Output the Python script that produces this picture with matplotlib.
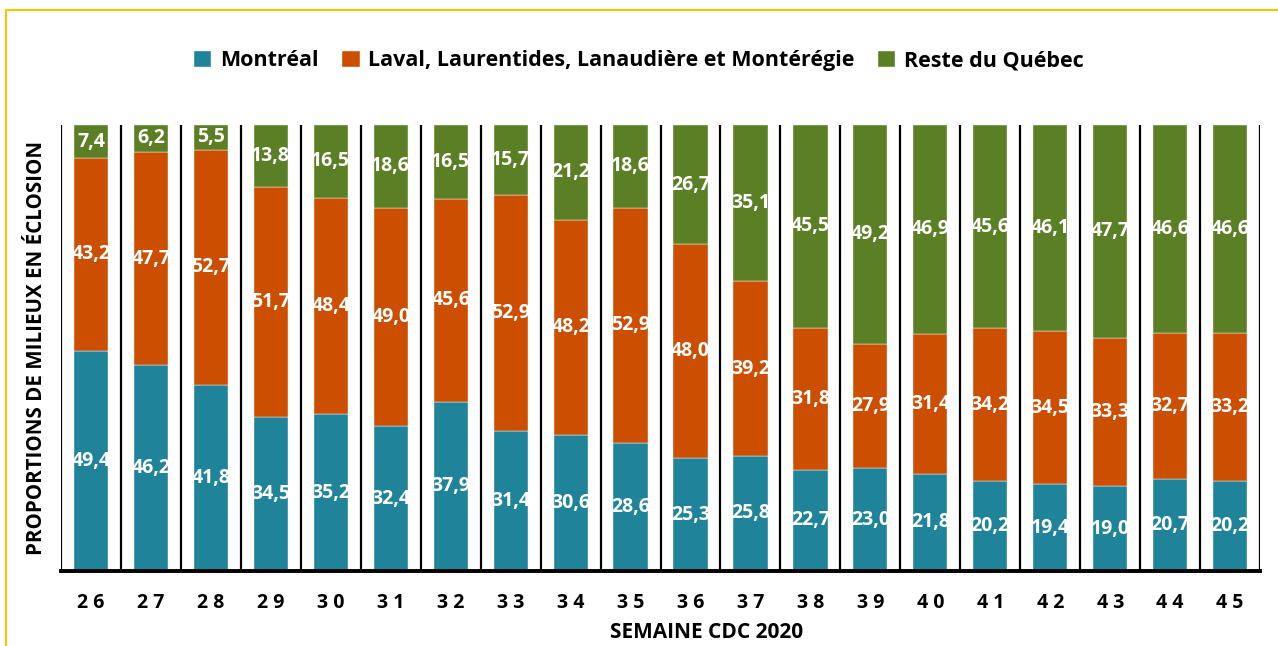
import matplotlib.pyplot as plt
import matplotlib.patches as patches
import numpy as np

plt.rcParams['font.family'] = ['Open Sans', 'DejaVu Sans']

# semaines CDC 2020
weeks = ['26', '27', '28', '29', '30', '31', '32', '33', '34', '35',
         '36', '37', '38', '39', '40', '41', '42', '43', '44', '45']
montreal = [49.4, 46.2, 41.8, 34.5, 35.2, 32.4, 37.9, 31.4, 30.6, 28.6,
            25.3, 25.8, 22.7, 23.0, 21.8, 20.2, 19.4, 19.0, 20.7, 20.2]
laval = [43.2, 47.7, 52.7, 51.7, 48.4, 49.0, 45.6, 52.9, 48.2, 52.9,
         48.0, 39.2, 31.8, 27.9, 31.4, 34.2, 34.5, 33.3, 32.7, 33.2]
reste = [7.4, 6.2, 5.5, 13.8, 16.5, 18.6, 16.5, 15.7, 21.2, 18.6,
         26.7, 35.1, 45.5, 49.2, 46.9, 45.6, 46.1, 47.7, 46.6, 46.6]
series_names = ['Montréal', 'Laval, Laurentides, Lanaudière et Montérégie',
                'Reste du Québec']
colors = ['#1f839a', '#cc4e00', '#5b7f24']

fig = plt.figure(figsize=(12.78, 6.46), dpi=100)
ax = fig.add_axes([0.0477, 0.1161, 0.986 - 0.0477, 0.8065 - 0.1161])

x = np.arange(len(weeks))
bottom = np.zeros(len(weeks))
for vals, name, col in zip([montreal, laval, reste], series_names, colors):
    vals = np.array(vals)
    ax.bar(x, vals, 0.57, bottom=bottom, color=col, label=name,
           edgecolor='#ffffff', linewidth=0.3)
    for xi, b, v in zip(x, bottom, vals):
        ax.text(xi, b + v / 2, f'{v:.1f}'.replace('.', ','), ha='center',
                va='center', color='white', fontsize=14, fontweight='bold')
    bottom += vals

# separateurs verticaux entre les semaines
ax.vlines(np.arange(len(weeks) + 1) - 0.5, 0, 100, color='black', lw=1.6)

ax.set_xlim(-0.5, len(weeks) - 0.5)
ax.set_ylim(0, 100)
for s in ['left', 'right', 'top']:
    ax.spines[s].set_visible(False)
ax.spines['bottom'].set_linewidth(2.8)
ax.set_yticks([])
ax.set_xticks(x)
ax.set_xticklabels([' '.join(w) for w in weeks], fontsize=14,
                   fontweight='bold')
ax.tick_params(axis='x', length=0, pad=16)
ax.set_xlabel('SEMAINE CDC 2020', fontsize=15, fontweight='bold',
              labelpad=4)
ax.xaxis.set_label_coords(0.538, -0.115)
ax.set_ylabel('PROPORTIONS DE MILIEUX EN ÉCLOSION', fontsize=14.8,
              fontweight='bold', labelpad=10)

fig.legend(loc='center', bbox_to_anchor=(0.5, 0.906), ncol=3, frameon=False,
           prop={'size': 15.5, 'weight': 'bold'}, handlelength=0.8,
           handleheight=0.8, handletextpad=0.4, columnspacing=1.1)

# cadre jaune
fig.patches.append(patches.Rectangle((6 / 1278, -0.1), 1.2, 0.1 + 1 - 10 / 646,
                                     transform=fig.transFigure, fill=False,
                                     edgecolor='#ffc000', lw=1.5))

fig.savefig('out.png', dpi=100)
